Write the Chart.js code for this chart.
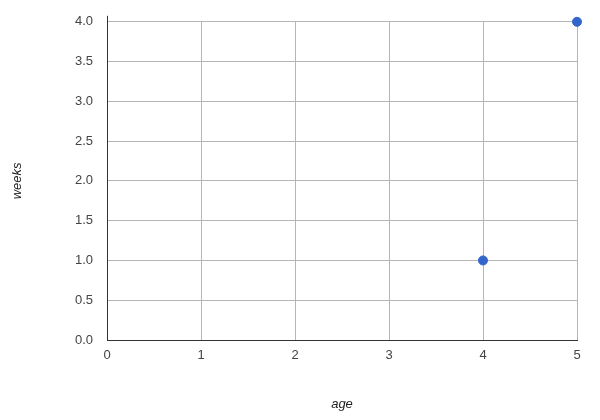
<!DOCTYPE html>
<html>
<head>
<meta charset="utf-8">
<script src="https://cdn.jsdelivr.net/npm/chart.js@4"></script>
<style>
  html, body { margin: 0; padding: 0; background: #fff; }
  #wrap { width: 600px; height: 420px; }
</style>
</head>
<body>
<div id="wrap"><canvas id="scatterChart"></canvas></div>
<script>
// data
const ages  = [4, 5];
const weeks = [1, 4];
const xTicks = [0, 1, 2, 3, 4, 5];
const yTicks = [0, 0.5, 1, 1.5, 2, 2.5, 3, 3.5, 4];

const points = ages.map((a, i) => ({ x: a, y: weeks[i] }));
const font = { family: '"Liberation Sans", Arial, sans-serif', size: 13 };

// the vertical axis line runs a little above the top gridline
const axisStub = {
    id: 'axisStub',
    afterDraw(chart) {
        const { ctx, chartArea } = chart;
        ctx.save();
        ctx.strokeStyle = '#333';
        ctx.lineWidth = 1;
        ctx.beginPath();
        ctx.moveTo(chartArea.left + 0.5, chartArea.top - 6);
        ctx.lineTo(chartArea.left + 0.5, chartArea.top);
        ctx.stroke();
        ctx.restore();
    }
};

new Chart(document.getElementById('scatterChart'), {
    type: 'scatter',
    data: {
        datasets: [{
            label: 'weeks',
            data: points,
            backgroundColor: '#3366cc',
            borderColor: '#3366cc',
            pointRadius: 4.5,
            pointHoverRadius: 5,
            clip: false
        }]
    },
    options: {
        responsive: true,
        maintainAspectRatio: false,
        animation: false,
        layout: { padding: { top: 20, right: 23, left: 0, bottom: 0 } },
        plugins: { legend: { display: false }, tooltip: { enabled: false } },
        scales: {
            x: {
                type: 'linear',
                min: 0, max: 5,
                afterBuildTicks: s => { s.ticks = xTicks.map(v => ({ value: v })); },
                afterFit: s => { s.height = 80; },
                grid: {
                    drawTicks: false,
                    color: c => (c.tick && c.tick.value === 0) ? '#333' : '#b5b5b5'
                },
                border: { color: '#333', width: 1 },
                ticks: { padding: 8, color: '#444', font: font },
                title: {
                    display: true, text: 'age', color: '#222',
                    font: { family: font.family, size: 13, style: 'italic' },
                    padding: { top: 10, bottom: 8 }
                }
            },
            y: {
                min: 0, max: 4,
                afterBuildTicks: s => { s.ticks = yTicks.map(v => ({ value: v })); },
                afterFit: s => { s.width = 107; },
                grid: {
                    drawTicks: false,
                    color: c => (c.tick && c.tick.value === 0) ? '#333' : '#b5b5b5'
                },
                border: { color: '#333', width: 1 },
                ticks: { padding: 14, color: '#444', font: font, callback: v => v.toFixed(1) },
                title: {
                    display: true, text: 'weeks', color: '#222',
                    font: { family: font.family, size: 13, style: 'italic' },
                    padding: { top: 10, bottom: 10 }
                }
            }
        }
    },
    plugins: [axisStub]
});
</script>
</body>
</html>
